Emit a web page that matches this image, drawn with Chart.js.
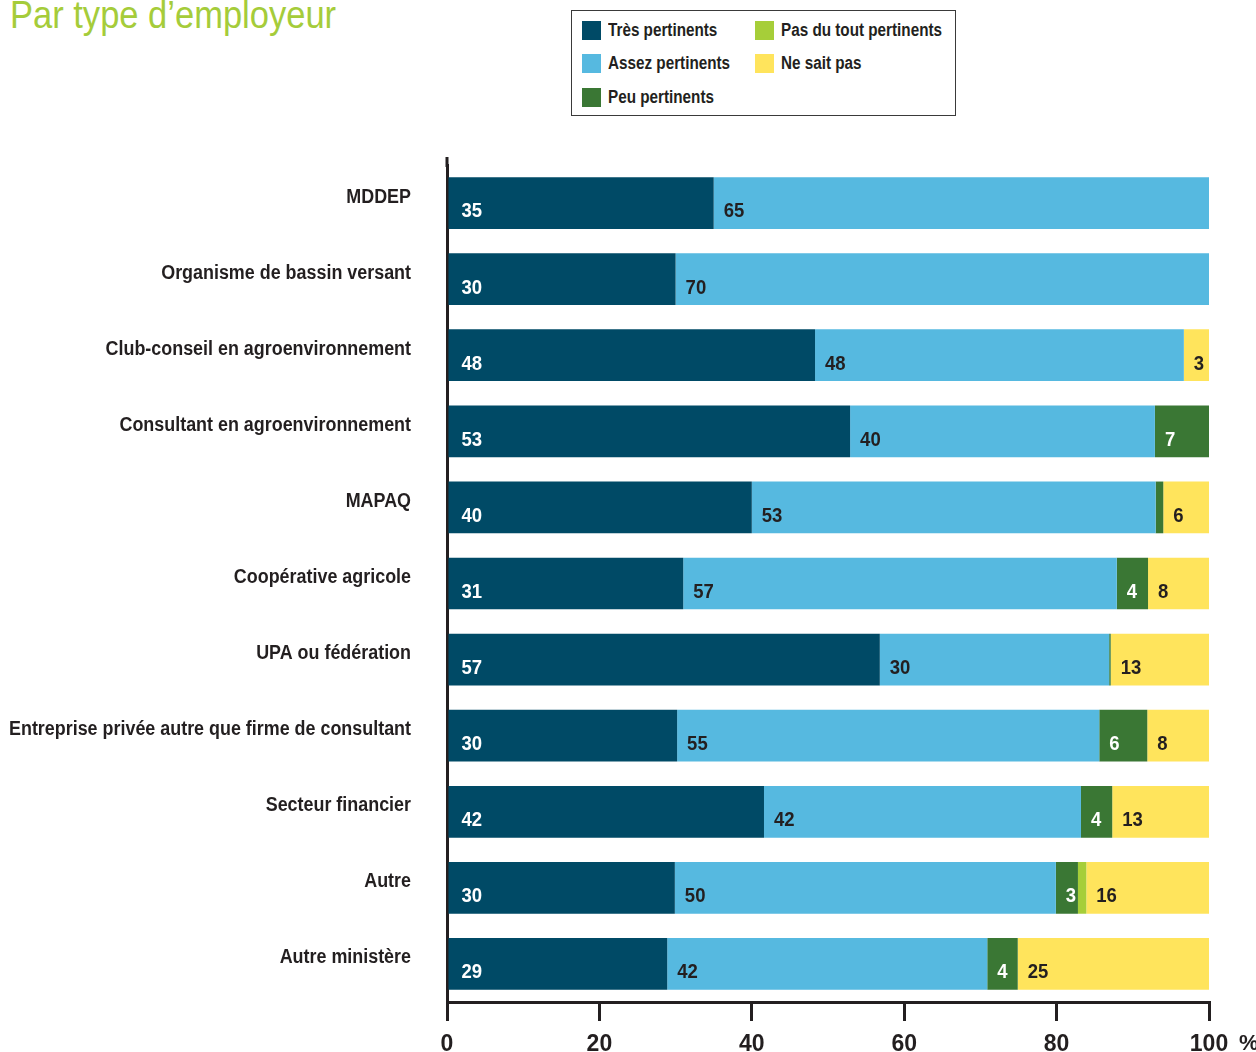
<!DOCTYPE html>
<html><head><meta charset="utf-8">
<script src="https://cdn.jsdelivr.net/npm/chart.js@4"></script>
<style>
html,body{margin:0;padding:0;background:#fff;}
body{width:1256px;height:1052px;position:relative;overflow:hidden;font-family:"Liberation Sans",Arial,sans-serif;}
#title{position:absolute;left:10px;top:-4px;font-size:38px;line-height:38px;color:#a5cc3a;white-space:nowrap;}
.sx{display:inline-block;transform-origin:0 50%;white-space:nowrap;}
#legend{position:absolute;left:571px;top:10px;width:383px;height:104px;border:1px solid #3a3a3a;}
.item{position:absolute;display:flex;align-items:center;font-weight:bold;font-size:18px;color:#231f20;white-space:nowrap;height:19px;}
.sw{width:19px;height:19px;margin-right:7px;flex:none;}
canvas{position:absolute;left:0;top:0;}
</style>
</head><body>
<div id="title"><span class="sx" id="titleText">Par type d’employeur</span></div>
<div id="legend"></div>
<canvas id="c" width="1256" height="1052"></canvas>
<script>
const categories = ["MDDEP","Organisme de bassin versant","Club-conseil en agroenvironnement","Consultant en agroenvironnement","MAPAQ","Coopérative agricole","UPA ou fédération","Entreprise privée autre que firme de consultant","Secteur financier","Autre","Autre ministère"];
const seriesNames = ["Très pertinents","Assez pertinents","Peu pertinents","Pas du tout pertinents","Ne sait pas"];
const tresPertinents   = [35, 30, 48.3, 52.9, 40, 31, 56.8, 30.2, 41.6, 29.9, 28.9];
const assezPertinents  = [65, 70, 48.4, 40, 53, 56.9, 30.1, 55.4, 41.6, 50, 42];
const peuPertinents    = [0, 0, 0, 7.1, 1, 4.1, 0.2, 6.3, 4.1, 2.9, 4];
const pasDuTout        = [0, 0, 0, 0, 0, 0, 0, 0, 0, 1.1, 0];
const neSaitPas        = [0, 0, 3.3, 0, 6, 8, 12.9, 8.1, 12.7, 16.1, 25.1];
const xTicks = [0, 20, 40, 60, 80, 100];

const FONT = '"Liberation Sans",Arial,sans-serif';
const INK = '#231f20';
const colors = ['#004a66','#56b9e0','#3a7734','#a6ce39','#ffe45c'];
const labelColors = ['#ffffff', INK, '#ffffff', INK, INK];
const seriesData = [tresPertinents, assezPertinents, peuPertinents, pasDuTout, neSaitPas];

// HTML legend
const legendPos = [[10,9.5],[10,42.5],[10,76.5],[183,9.5],[183,42.5]];
const lg = document.getElementById('legend');
const legendSpans = [];
seriesNames.forEach((n,i)=>{
  const d = document.createElement('div');
  d.className='item';
  d.style.left = legendPos[i][0]+'px';
  d.style.top = legendPos[i][1]+'px';
  const sw = document.createElement('span'); sw.className='sw'; sw.style.background=colors[i];
  const t = document.createElement('span'); t.className='sx'; t.textContent=n;
  d.appendChild(sw); d.appendChild(t);
  lg.appendChild(d);
  legendSpans.push(t);
});
function fitHtml(){
  const tt = document.getElementById('titleText');
  tt.style.transform='none';
  tt.style.transform = 'scaleX('+(326/tt.offsetWidth)+')';
  legendSpans.forEach(s=>s.style.transform='none');
  const k = 161/legendSpans[3].offsetWidth;
  legendSpans.forEach(s=>s.style.transform='scaleX('+k+')');
}
fitHtml();
if (document.fonts && document.fonts.ready) document.fonts.ready.then(fitHtml);

const categoryLabels = {
  id:'categoryLabels',
  afterDraw(chart){
    const ctx = chart.ctx, ys = chart.scales.y;
    ctx.save();
    ctx.font = 'bold 20px '+FONT;
    let longest = 0;
    chart.data.labels.forEach(l=>{ longest = Math.max(longest, ctx.measureText(l).width); });
    const k = 402/longest;
    ctx.fillStyle = INK; ctx.textAlign='right'; ctx.textBaseline='middle';
    chart.data.labels.forEach((l,i)=>{
      const y = ys.getPixelForTick(i) - 6;
      ctx.save(); ctx.translate(ys.right - 36, y); ctx.scale(k,1);
      ctx.fillText(l, 0, 0);
      ctx.restore();
    });
    ctx.restore();
  }
};
const valueLabels = {
  id:'valueLabels',
  afterDatasetsDraw(chart){
    const ctx = chart.ctx;
    ctx.save();
    ctx.font = 'bold 19.5px '+FONT;
    ctx.textAlign='left';
    ctx.textBaseline='middle';
    chart.data.datasets.forEach((ds,di)=>{
      const meta = chart.getDatasetMeta(di);
      meta.data.forEach((el,i)=>{
        const v = ds.data[i];
        if (v < 2) return;
        const start = Math.min(el.base, el.x);
        ctx.fillStyle = labelColors[di];
        ctx.save(); ctx.translate(start + (di===0?13:10), el.y + 9); ctx.scale(0.95,1);
        ctx.fillText(String(Math.round(v)), 0, 0);
        ctx.restore();
      });
    });
    ctx.restore();
  }
};
const extras = {
  id:'extras',
  afterDraw(chart){
    const ctx = chart.ctx, a = chart.chartArea;
    ctx.save();
    ctx.strokeStyle = INK; ctx.lineWidth = 3;
    ctx.beginPath(); ctx.moveTo(a.left, a.top-8); ctx.lineTo(a.left, a.top+2); ctx.stroke();
    ctx.fillStyle = INK;
    ctx.font = 'bold 22px '+FONT;
    ctx.textAlign='left'; ctx.textBaseline='middle';
    ctx.fillText('%', 1239, 1044);
    ctx.restore();
  }
};

new Chart(document.getElementById('c'), {
  type:'bar',
  data:{
    labels: categories,
    datasets: seriesData.map((d,i)=>({label:seriesNames[i], data:d, backgroundColor:colors[i], borderWidth:0, categoryPercentage:1, barPercentage:0.68}))
  },
  options:{
    responsive:false, animation:false, indexAxis:'y',
    layout:{padding:{top:165,right:47,left:0,bottom:0}},
    plugins:{legend:{display:false}, tooltip:{enabled:false}},
    scales:{
      x:{stacked:true,min:0,max:100,
        afterBuildTicks(s){ s.ticks = xTicks.map(v=>({value:v})); },
        ticks:{color:INK,font:{family:FONT,size:23,weight:'bold'},padding:10,maxRotation:0},
        grid:{drawOnChartArea:false,drawTicks:true,tickLength:19,color:INK,lineWidth:3},
        border:{display:true,color:INK,width:3},
        afterFit(s){ s.height = 50; }
      },
      y:{stacked:true,
        ticks:{display:false},
        grid:{drawOnChartArea:false,drawTicks:false},
        border:{display:true,color:INK,width:3},
        afterFit(s){ s.width = 447; }
      }
    }
  },
  plugins:[valueLabels, categoryLabels, extras]
});
</script>
</body></html>
